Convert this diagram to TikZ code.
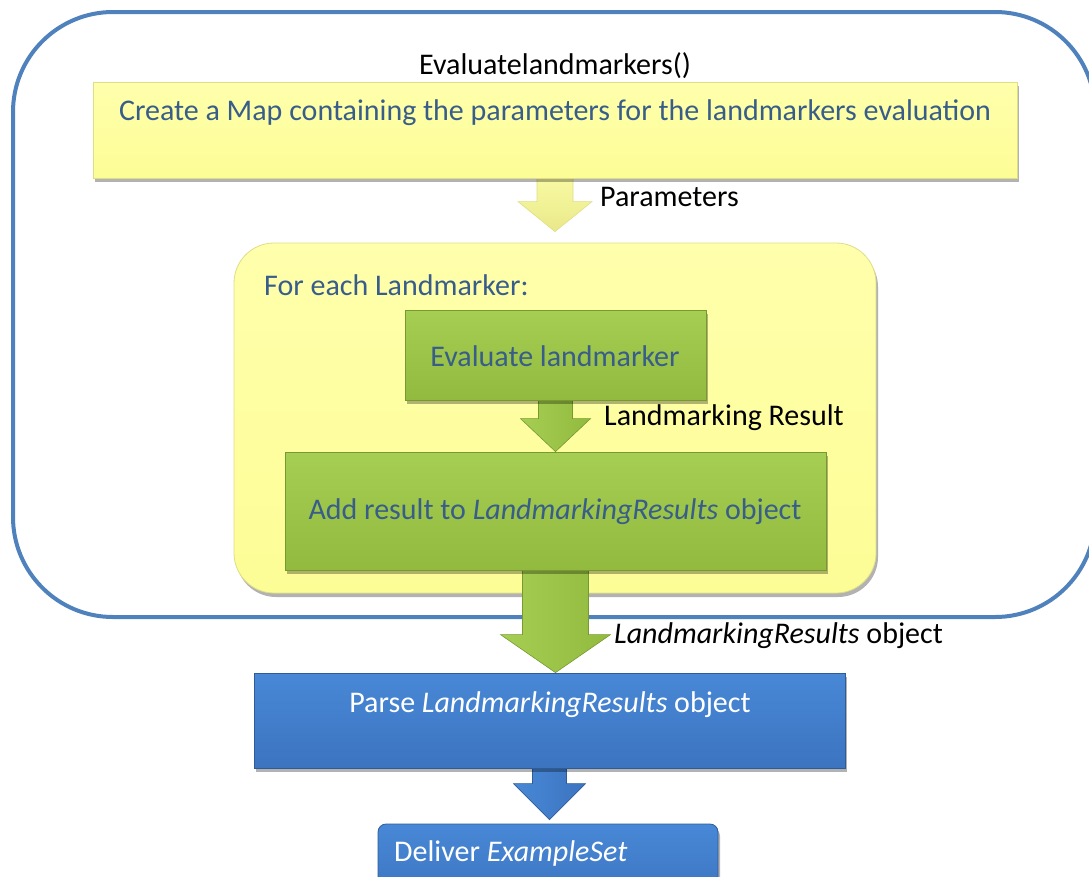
\documentclass[tikz,border=0pt]{standalone}
\usepackage{fontspec}
\setmainfont{Carlito}
\usetikzlibrary{calc,shadows}

\definecolor{frameblue}{RGB}{79,129,189}
\definecolor{labelblue}{RGB}{56,93,138}
\definecolor{ylight}{RGB}{255,255,172}
\definecolor{ydark}{RGB}{253,253,150}
\definecolor{yedge}{RGB}{222,222,135}
\definecolor{glight}{RGB}{166,206,82}
\definecolor{gdark}{RGB}{146,186,62}
\definecolor{gedge}{RGB}{118,154,48}
\definecolor{blight}{RGB}{72,136,214}
\definecolor{bdark}{RGB}{60,116,192}
\definecolor{bedge}{RGB}{46,92,152}

\pgfdeclarelayer{back}
\pgfdeclarelayer{arrows}
\pgfsetlayers{back,arrows,main}

% block arrow leaving the bottom of #2 and pointing at #3
% #4 shaft half width, #5 head half width, #6 head length
\newcommand\blockarrow[6]{%
  \path[#1] let \p1=(#2.south), \p2=(#3) in
    (\x1-#4,\y1+20pt) -- (\x1-#4,\y2+#6) -- (\x1-#5,\y2+#6) -- (\x1,\y2)
    -- (\x1+#5,\y2+#6) -- (\x1+#4,\y2+#6) -- (\x1+#4,\y1+20pt) -- cycle;}

\tikzset{
  boxshadow/.style={drop shadow={shadow xshift=2pt,shadow yshift=-4pt,opacity=0.3,fill=black}},
  ybox/.style={rectangle,top color=ylight,bottom color=ydark,draw=yedge,line width=0.8pt,boxshadow,inner sep=0pt},
  gbox/.style={rectangle,top color=glight,bottom color=gdark,draw=gedge,line width=0.8pt,boxshadow,inner sep=0pt},
  bbox/.style={rectangle,top color=blight,bottom color=bdark,draw=bedge,line width=0.8pt,boxshadow,inner sep=0pt},
  boxtext/.style={font=\fontsize{30}{36}\selectfont,text=labelblue,inner sep=0pt},
  whitetext/.style={font=\fontsize{30}{36}\selectfont,text=white,inner sep=0pt},
  flowlabel/.style={font=\fontsize{30}{36}\selectfont,text=black,inner sep=0pt,anchor=west},
  yarrow/.style={top color=ylight,bottom color=ydark!92!black,draw=yedge,line width=0.6pt},
  garrow/.style={left color=glight,right color=gdark,draw=gedge,line width=0.6pt},
  barrow/.style={left color=blight,right color=bdark,draw=bedge,line width=0.6pt},
}

\begin{document}
\begin{tikzpicture}[x=1pt,y=-1pt]
\useasboundingbox (0,0) rectangle (1089,876);
\clip (0,0) rectangle (1089,876);

% enclosing method frame and loop area
\begin{pgfonlayer}{back}
  \draw[frameblue,line width=4pt,rounded corners=100pt] (13,12) rectangle (1095,617);
  \node[ybox,rounded corners=40pt,minimum width=642pt,minimum height=350pt] (loop) at (555,418) {};
\end{pgfonlayer}

\node[flowlabel,anchor=center] (method) at (555,66) {Evaluatelandmarkers()};

\node[ybox,minimum width=924pt,minimum height=96pt] (map) at (555,130) {};
\node[boxtext] (maptext) at (555,113) {Create a Map containing the parameters for the landmarkers evaluation};

\node[boxtext,anchor=west] (looptext) at (264,285) {For each Landmarker:};

\node[gbox,minimum width=301pt,minimum height=90pt] (eval) at (555.5,355) {};
\node[boxtext] (evaltext) at (555,356) {Evaluate landmarker};

\node[gbox,minimum width=541pt,minimum height=118pt] (add) at (555.5,511) {};
\node[boxtext] (addtext) at (555,512) {Add result to \textit{LandmarkingResults} object};

\node[bbox,minimum width=591pt,minimum height=95pt] (parse) at (549.5,720.5) {};
\node[whitetext] (parsetext) at (550,705) {Parse \textit{LandmarkingResults} object};

\node[bbox,rounded corners=8pt,minimum width=340pt,minimum height=76pt] (deliver) at (548,862) {};
\node[whitetext,anchor=west] (delivertext) at (394,853) {Deliver \textit{ExampleSet}};

% flow labels
\node[flowlabel] (paramlabel) at (600,197) {Parameters};
\node[flowlabel] (resultlabel) at (604,418) {Landmarking Result};
\node[flowlabel] (resultslabel) at (614,636) {\textit{LandmarkingResults} object};

% block arrows between the steps
\begin{pgfonlayer}{arrows}
  \blockarrow{yarrow}{map}{$(loop.north)+(0,-11)$}{18pt}{37pt}{30pt}
  \blockarrow{garrow}{eval}{add.north}{17pt}{35pt}{33pt}
  \blockarrow{garrow}{add}{parse.north}{33pt}{55pt}{38pt}
  \blockarrow{barrow}{parse}{$(deliver.north)+(0,-4)$}{17pt}{36pt}{36pt}
\end{pgfonlayer}
\end{tikzpicture}
\end{document}
